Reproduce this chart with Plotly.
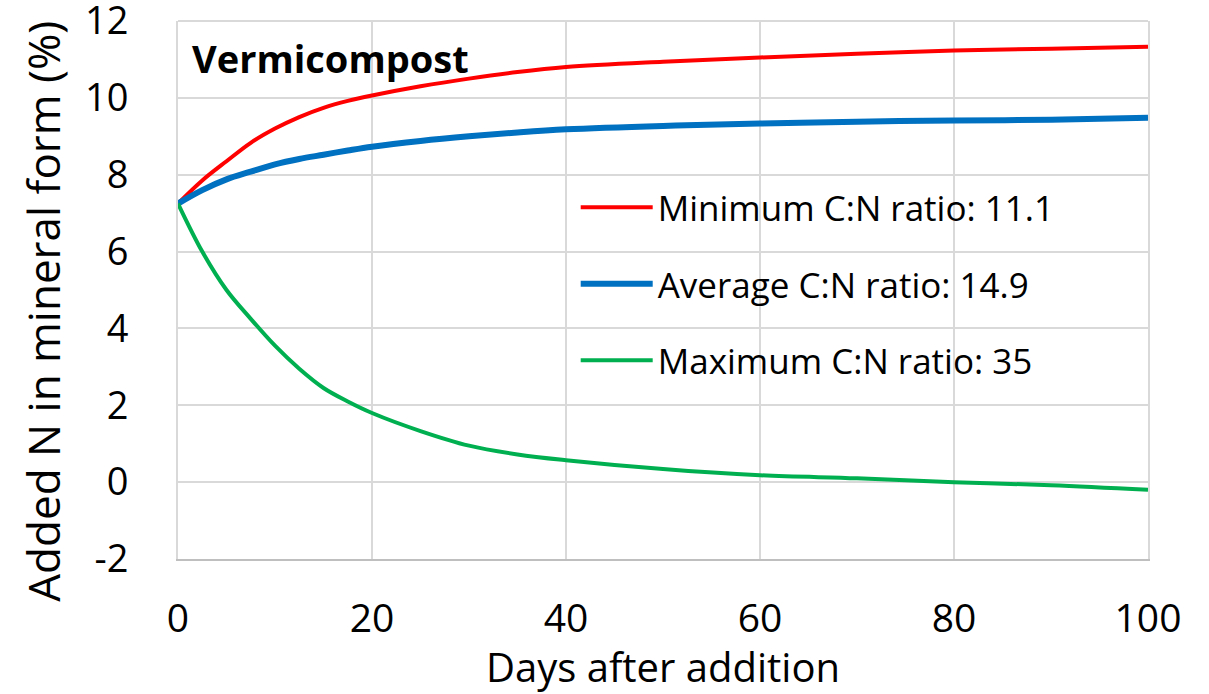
import plotly.graph_objects as go

days = [0, 2.5, 5, 7.5, 10, 12.5, 15, 17.5, 20, 25, 30, 35, 40, 50, 60, 70, 80, 90, 100]
min_cn = [7.25, 7.85, 8.35, 8.83, 9.2, 9.5, 9.74, 9.92, 10.06, 10.3, 10.5, 10.67, 10.8, 10.94, 11.05, 11.15, 11.23, 11.28, 11.33]
avg_cn = [7.25, 7.6, 7.88, 8.08, 8.27, 8.41, 8.52, 8.63, 8.73, 8.88, 9.0, 9.1, 9.18, 9.27, 9.33, 9.38, 9.41, 9.43, 9.48]
max_cn = [7.25, 6.0, 5.0, 4.25, 3.55, 2.95, 2.45, 2.1, 1.8, 1.33, 0.95, 0.72, 0.57, 0.34, 0.18, 0.1, 0.0, -0.08, -0.2]

names = ["Minimum C:N ratio: 11.1", "Average C:N ratio: 14.9", "Maximum C:N ratio: 35"]
colors = ["#FF0000", "#0070C0", "#00B050"]
widths = [4, 6, 4]
series = [min_cn, avg_cn, max_cn]

y_ticks = [-2, 0, 2, 4, 6, 8, 10, 12]
y_ticktext = ["-2", "0", "2", "4", "6", "8", "10", "12"]
x_ticks = [0, 20, 40, 60, 80, 100]

FONT = "Open Sans"

fig = go.Figure()
for i, (n, c, w, s) in enumerate(zip(names, colors, widths, series)):
    fig.add_trace(go.Scatter(x=days, y=s, mode="lines", name=n, legendgroup=str(i),
                             line=dict(color=c, width=w, shape="spline", smoothing=1.0)))

fig.update_layout(
    width=1209, height=694,
    margin=dict(l=178, r=61, t=21, b=135),
    plot_bgcolor="white", paper_bgcolor="white",
    font=dict(family=FONT, size=30, color="black"),
    showlegend=True,
    legend=dict(x=0.41, y=0.708, xanchor="left", yanchor="top",
                bgcolor="rgba(255,255,255,0)", font=dict(size=35, family=FONT),
                traceorder="grouped", tracegroupgap=28, itemwidth=72),
    xaxis=dict(range=[0, 100], tickvals=x_ticks, showgrid=True, gridcolor="#D9D9D9", gridwidth=2,
               zeroline=False, showline=True, linecolor="#BFBFBF", linewidth=2,
               mirror=False, ticks="", ticklabelstandoff=24, ticklabeloverflow="allow",
               title=dict(text="Days after addition", font=dict(size=40), standoff=8),
               tickfont=dict(size=39)),
    yaxis=dict(range=[-2, 12], tickvals=y_ticks, ticktext=y_ticktext,
               showgrid=True, gridcolor="#D9D9D9", gridwidth=2,
               zeroline=False, showline=True, linecolor="#D9D9D9", linewidth=2, mirror=True,
               ticks="outside", ticklen=40, tickcolor="rgba(0,0,0,0)",
               automargin=False, ticklabeloverflow="allow",
               tickfont=dict(size=38)),
    shapes=[dict(type="line", xref="paper", yref="paper", x0=0, x1=1, y0=1, y1=1,
                 line=dict(color="#D9D9D9", width=2), layer="below")],
    annotations=[
        dict(text="<b>Vermicompost</b>", xref="paper", yref="paper", x=0.012, y=0.931,
             xanchor="left", yanchor="middle", showarrow=False,
             font=dict(size=38, family=FONT, color="black")),
        dict(text="Added N in mineral form (%)", xref="paper", yref="paper",
             x=-0.14, y=0.46, xanchor="center", yanchor="middle", textangle=-90,
             showarrow=False, font=dict(size=44, family=FONT, color="black")),
    ],
)

fig.write_html("out.html")
